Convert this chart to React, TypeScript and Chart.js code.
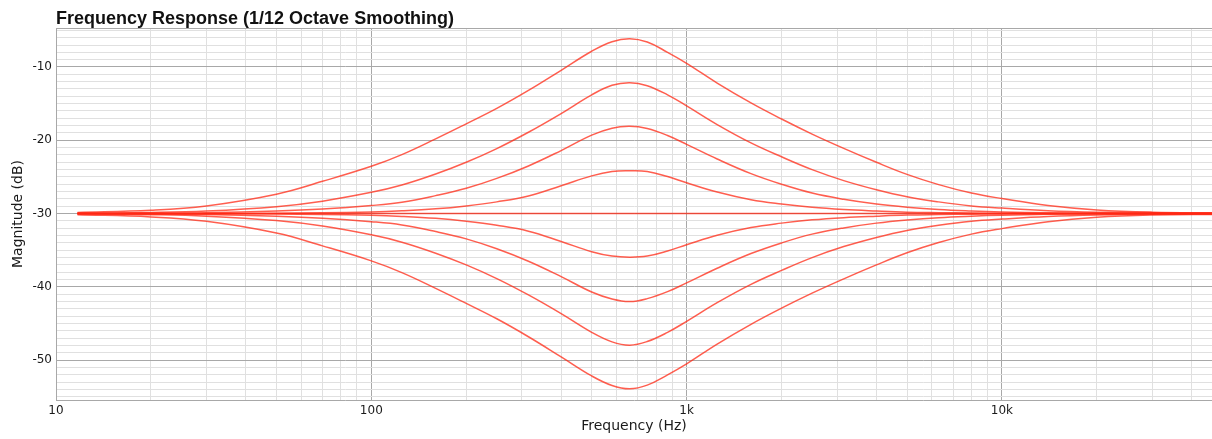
import React, { useEffect, useRef } from "react";
import { Chart, registerables } from "chart.js";

Chart.register(...registerables);

// ---- data ----
const FREQS = [11.7, 20, 30, 50, 70, 100, 125, 160, 200, 250, 315, 400, 500, 580, 660, 750, 870, 1000, 1250, 1600, 2000, 2500, 3150, 4000, 5000, 6300, 8000, 10000, 14000, 20000, 30000, 48000];

const BOOST_24 = [-29.85, -29.55, -28.95, -27.35, -25.6, -23.55, -21.95, -19.8, -17.75, -15.65, -13.2, -10.45, -7.85, -6.55, -6.15, -6.6, -8.0, -9.5, -12.2, -14.9, -17.1, -19.15, -21.1, -23.0, -24.65, -26.05, -27.2, -27.95, -28.9, -29.5, -29.8, -29.9];
const BOOST_18 = [-29.95, -29.85, -29.65, -29.05, -28.3, -27.1, -26.1, -24.6, -23.0, -21.13, -18.9, -16.35, -13.8, -12.5, -12.15, -12.55, -13.8, -15.3, -17.85, -20.35, -22.25, -24.0, -25.5, -26.75, -27.7, -28.4, -28.95, -29.25, -29.6, -29.8, -29.9, -29.95];
const BOOST_12 = [-30.0, -29.95, -29.88, -29.65, -29.38, -28.9, -28.45, -27.55, -26.55, -25.2, -23.5, -21.4, -19.3, -18.35, -18.1, -18.4, -19.35, -20.55, -22.55, -24.55, -26.0, -27.2, -28.05, -28.7, -29.13, -29.45, -29.65, -29.78, -29.9, -29.95, -30.0, -30.0];
const BOOST_6 = [-30.0, -30.0, -29.98, -29.95, -29.88, -29.77, -29.62, -29.35, -28.95, -28.4, -27.6, -26.2, -24.85, -24.25, -24.15, -24.25, -24.95, -25.8, -27.05, -28.1, -28.7, -29.15, -29.45, -29.65, -29.8, -29.87, -29.92, -29.95, -29.98, -30.0, -30.0, -30.0];
const FLAT_0 = [-30, -30, -30, -30, -30, -30, -30, -30, -30, -30, -30, -30, -30, -30, -30, -30, -30, -30, -30, -30, -30, -30, -30, -30, -30, -30, -30, -30, -30, -30, -30, -30];
const CUT_6 = [-30.0, -30.0, -30.02, -30.05, -30.12, -30.23, -30.38, -30.65, -31.05, -31.6, -32.4, -33.8, -35.2, -35.8, -35.95, -35.8, -35.1, -34.25, -32.95, -31.9, -31.3, -30.85, -30.55, -30.35, -30.2, -30.13, -30.08, -30.05, -30.02, -30.0, -30.0, -30.0];
const CUT_12 = [-30.0, -30.05, -30.12, -30.35, -30.62, -31.1, -31.55, -32.45, -33.45, -34.8, -36.5, -38.6, -40.7, -41.65, -42.0, -41.6, -40.65, -39.45, -37.45, -35.45, -34.0, -32.8, -31.95, -31.3, -30.87, -30.55, -30.35, -30.22, -30.1, -30.05, -30.0, -30.0];
const CUT_18 = [-30.05, -30.15, -30.35, -30.95, -31.7, -32.9, -33.9, -35.4, -37.0, -38.87, -41.1, -43.65, -46.2, -47.5, -47.95, -47.45, -46.2, -44.7, -42.15, -39.65, -37.75, -36.0, -34.5, -33.25, -32.3, -31.6, -31.05, -30.75, -30.4, -30.2, -30.1, -30.05];
const CUT_24 = [-30.15, -30.45, -31.05, -32.65, -34.4, -36.45, -38.05, -40.2, -42.25, -44.35, -46.8, -49.55, -52.15, -53.45, -53.9, -53.4, -52.0, -50.5, -47.8, -45.1, -42.9, -40.85, -38.9, -37.0, -35.35, -33.95, -32.8, -32.05, -31.1, -30.5, -30.2, -30.1];

const SERIES = [BOOST_24, BOOST_18, BOOST_12, BOOST_6, FLAT_0, CUT_6, CUT_12, CUT_18, CUT_24];
const SERIES_NAMES = ["+24 dB", "+18 dB", "+12 dB", "+6 dB", "0 dB", "-6 dB", "-12 dB", "-18 dB", "-24 dB"];

// ---- axes ----
const X_GRID_TICKS = [10, 20, 30, 40, 50, 60, 70, 80, 90, 100, 200, 300, 400, 500, 600, 700, 800, 900, 1000, 2000, 3000, 4000, 5000, 6000, 7000, 8000, 9000, 10000, 20000, 30000, 40000];
const X_TICK_LABELS: Record<number, string> = { 10: "10", 100: "100", 1000: "1k", 10000: "10k" };
const Y_LABEL_TICKS = [-10, -20, -30, -40, -50];
const X_MIN = 10;
const X_MAX = 46370;
const Y_MIN = -55.43;
const Y_MAX = -4.68;

const TITLE = "Frequency Response (1/12 Octave Smoothing)";
const X_TITLE = "Frequency (Hz)";
const Y_TITLE = "Magnitude (dB)";

const LINE_COLOR = "rgba(255, 40, 20, 0.75)";
const MAJOR_GRID = "#a8a8a8";
const MINOR_GRID = "#e0e0e0";
const TEXT_COLOR = "#1a1a1a";
const LABEL_FONT = "'DejaVu Sans', 'Noto Sans', sans-serif";
const TITLE_FONT = "'Liberation Sans', Arial, sans-serif";

export default function App() {
  const ref = useRef<HTMLCanvasElement>(null);

  useEffect(() => {
    const canvas = ref.current;
    if (!canvas) return;

    const datasets = SERIES.map((vals, i) => ({
      label: SERIES_NAMES[i],
      data: FREQS.map((f, j) => ({ x: f, y: vals[j] })),
      borderColor: LINE_COLOR,
      backgroundColor: LINE_COLOR,
      borderWidth: 1.5,
      pointRadius: 0,
      pointHoverRadius: 0,
      tension: 0.4,
      fill: false,
    }));

    const framePlugin = {
      id: "frame",
      beforeDatasetsDraw(chart: any) {
        const { ctx, chartArea: a } = chart;
        ctx.save();
        ctx.strokeStyle = MAJOR_GRID;
        ctx.lineWidth = 1;
        ctx.beginPath();
        ctx.moveTo(a.left, a.top + 0.5);
        ctx.lineTo(a.right, a.top + 0.5);
        ctx.stroke();
        ctx.restore();
      },
      afterDraw(chart: any) {
        const { ctx, chartArea: a } = chart;
        ctx.save();
        ctx.font = `bold 18px ${TITLE_FONT}`;
        ctx.fillStyle = "#111";
        ctx.textAlign = "left";
        ctx.textBaseline = "alphabetic";
        ctx.fillText(TITLE, a.left, 24);
        ctx.restore();
      },
    };

    const chart = new Chart(canvas, {
      type: "line",
      data: { datasets },
      options: {
        responsive: false,
        animation: false,
        events: [],
        layout: { padding: { top: 28, right: 0, bottom: 0, left: 0 } },
        plugins: {
          legend: { display: false },
          tooltip: { enabled: false },
          title: { display: false },
        },
        scales: {
          x: {
            type: "logarithmic",
            min: X_MIN,
            max: X_MAX,
            afterBuildTicks: (s: any) => {
              s.ticks = X_GRID_TICKS.map((v) => ({ value: v }));
            },
            afterFit: (s: any) => {
              s.height = 39;
            },
            ticks: {
              autoSkip: false,
              maxRotation: 0,
              minRotation: 0,
              padding: 4,
              color: TEXT_COLOR,
              font: { family: LABEL_FONT, size: 12 },
              callback: (v: any) => X_TICK_LABELS[Number(v)] ?? "",
            },
            grid: {
              drawTicks: false,
              lineWidth: 1,
              color: (ctx: any) => {
                const v = ctx.tick ? ctx.tick.value : 0;
                return X_TICK_LABELS[v] !== undefined ? MAJOR_GRID : MINOR_GRID;
              },
            },
            border: { display: true, color: MAJOR_GRID },
            title: {
              display: true,
              text: X_TITLE,
              color: TEXT_COLOR,
              font: { family: LABEL_FONT, size: 14 },
              padding: { top: 0, bottom: 4 },
            },
          },
          y: {
            type: "linear",
            min: Y_MIN,
            max: Y_MAX,
            afterBuildTicks: (s: any) => {
              const t: any[] = [];
              for (let v = -55; v <= -5; v++) t.push({ value: v });
              s.ticks = t;
            },
            afterFit: (s: any) => {
              s.width = 56;
            },
            ticks: {
              autoSkip: false,
              padding: 4,
              color: TEXT_COLOR,
              font: { family: LABEL_FONT, size: 12 },
              callback: (v: any) => (Y_LABEL_TICKS.includes(Number(v)) ? String(v) : ""),
            },
            grid: {
              drawTicks: false,
              lineWidth: 1,
              color: (ctx: any) => {
                const v = ctx.tick ? ctx.tick.value : 0;
                return Y_LABEL_TICKS.includes(v) ? MAJOR_GRID : MINOR_GRID;
              },
            },
            border: { display: true, color: MAJOR_GRID },
            title: {
              display: true,
              text: Y_TITLE,
              color: TEXT_COLOR,
              font: { family: LABEL_FONT, size: 14 },
              padding: { top: 9.6, bottom: 0 },
            },
          },
        },
      },
      plugins: [framePlugin],
    } as any);

    return () => chart.destroy();
  }, []);

  return (
    <div style={{ position: "absolute", left: 0, top: 0, width: 1212, height: 439, overflow: "hidden", background: "#fff" }}>
      <canvas ref={ref} width={1212} height={439} style={{ display: "block", width: 1212, height: 439 }} />
    </div>
  );
}
